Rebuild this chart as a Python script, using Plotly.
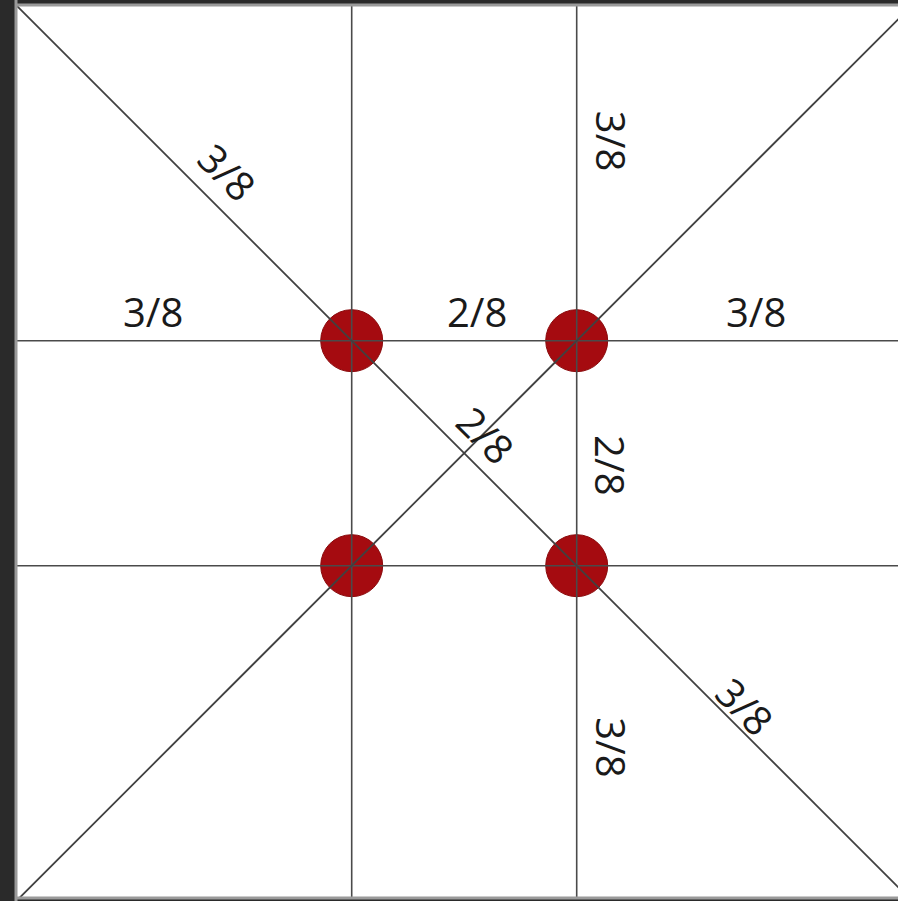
import numpy as np
import plotly.graph_objects as go

# ---- data ----
segment_labels = ["3/8", "2/8", "3/8"]       # parts of each side
segment_parts = [3, 2, 3]                      # in eighths
side = sum(segment_parts)                      # 8
cuts = list(np.cumsum(segment_parts)[:-1])     # 3, 5

# label anchor positions (data units, y measured downward)
h_label_x = [1.23, 4.11, 6.59]
h_label_y = [2.74, 2.74, 2.74]
v_label_x = [5.31, 5.30, 5.31]
v_label_y = [1.22, 4.11, 6.61]
d_label_x = [1.89, 4.19, 6.50]
d_label_y = [1.50, 3.83, 6.25]

fig = go.Figure()

# red power points
px, py = [], []
for yy in cuts:
    for xx in cuts:
        px.append(xx)
        py.append(yy)
fig.add_trace(go.Scatter(x=px, y=py, mode="markers",
                         marker=dict(size=62, color="#a50b10",
                                     line=dict(color="#8a0a0c", width=1)),
                         hoverinfo="skip", showlegend=False))

line_col = "#4a4a4a"
# vertical and horizontal lines
for c in cuts:
    fig.add_trace(go.Scatter(x=[c, c], y=[0, side], mode="lines",
                             line=dict(color=line_col, width=1.6),
                             hoverinfo="skip", showlegend=False))
    fig.add_trace(go.Scatter(x=[0, side], y=[c, c], mode="lines",
                             line=dict(color=line_col, width=1.6),
                             hoverinfo="skip", showlegend=False))
# diagonals
fig.add_trace(go.Scatter(x=[0, side], y=[0, side], mode="lines",
                         line=dict(color="#404040", width=1.8),
                         hoverinfo="skip", showlegend=False))
fig.add_trace(go.Scatter(x=[side, 0], y=[0, side], mode="lines",
                         line=dict(color="#404040", width=1.8),
                         hoverinfo="skip", showlegend=False))

font = dict(family="Open Sans", size=40, color="#1a1a1a")
anns = []
for lab, x, y in zip(segment_labels, h_label_x, h_label_y):
    anns.append(dict(x=x, y=y, text=lab, showarrow=False, font=font))
for lab, x, y in zip(segment_labels, v_label_x, v_label_y):
    anns.append(dict(x=x, y=y, text=lab, showarrow=False, font=font, textangle=90))
for lab, x, y in zip(segment_labels, d_label_x, d_label_y):
    anns.append(dict(x=x, y=y, text=lab, showarrow=False, font=font, textangle=45))

border = "#9a9a9a"
shapes = [
    dict(type="line", xref="paper", yref="paper", x0=0, x1=0, y0=-0.01, y1=1.01,
         line=dict(color=border, width=3)),
    dict(type="line", xref="paper", yref="paper", x0=0, x1=1, y0=1, y1=1,
         line=dict(color=border, width=3)),
    dict(type="line", xref="paper", yref="paper", x0=0, x1=1, y0=0, y1=0,
         line=dict(color=border, width=3)),
]

fig.update_layout(
    width=898, height=901,
    margin=dict(l=16, r=0, t=5, b=3),
    paper_bgcolor="#2a2a2a",
    plot_bgcolor="#ffffff",
    annotations=anns,
    shapes=shapes,
    xaxis=dict(range=[0.016, 7.856], visible=False, fixedrange=True),
    yaxis=dict(range=[7.954, 0.016], visible=False, fixedrange=True),
)

fig.write_html(
    "out.html",
    config={"displayModeBar": False},
    post_script="document.body.style.margin='0';document.body.style.padding='0';"
                "document.body.style.overflow='hidden';",
)
